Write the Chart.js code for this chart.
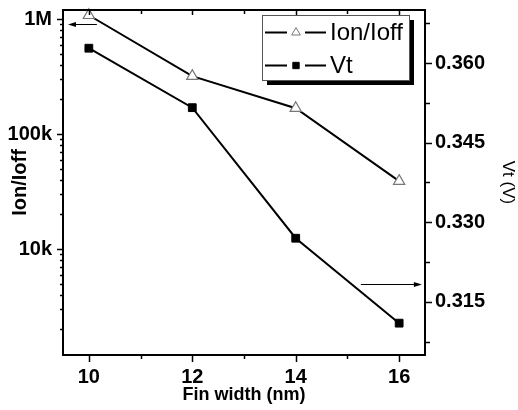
<!DOCTYPE html>
<html><head><meta charset="utf-8">
<script src="https://cdn.jsdelivr.net/npm/chart.js@4/dist/chart.umd.min.js"></script>
<style>html,body{margin:0;padding:0;background:#fff;}#wrap{width:518px;height:410px;}</style>
</head><body><div id="wrap"><canvas id="c" width="518" height="410"></canvas></div>
<script>
// ---- data ----
const finWidth = [10, 12, 14, 16];
const ionIoff = [1080000, 319000, 168000, 39000];
const vt = [0.3628, 0.3516, 0.3270, 0.3110];
const seriesNames = ['Ion/Ioff', 'Vt'];
const xTickValues = [10, 12, 14, 16];
const xTickLabels = ['10', '12', '14', '16'];
const leftTickValues = [1e4, 1e5, 1e6];
const leftTickLabels = ['10k', '100k', '1M'];
const rightTickValues = [0.315, 0.330, 0.345, 0.360];
const rightTickLabels = ['0.315', '0.330', '0.345', '0.360'];
const axisTitles = {x: 'Fin width (nm)', y: 'Ion/Ioff', y1: 'Vt (V)'};
// arrows pointing to each series' axis (data coordinates)
const arrowLeft = {x0: 10.155, x1: 9.597, y: 905000, axis: 'y'};
const arrowRight = {x0: 15.26, x1: 16.44, y: 0.3184, axis: 'y1'};

const FONT = '"Liberation Sans", Arial, Helvetica, sans-serif';

const framePlugin = {
  id: 'frame',
  afterDatasetsDraw(chart) {
    const ctx = chart.ctx;
    const a = chart.chartArea;
    const sx = chart.scales.x, sy = chart.scales.y, sr = chart.scales.y1;
    ctx.save();
    ctx.strokeStyle = '#000';
    ctx.lineCap = 'butt';
    // tick marks
    ctx.lineWidth = 1.5;
    ctx.beginPath();
    for (let v = 10; v <= 16; v++) {
      const px = Math.round(sx.getPixelForValue(v)) + 0.5;
      const major = xTickValues.includes(v);
      ctx.moveTo(px, a.bottom); ctx.lineTo(px, a.bottom + (major ? 7 : 4));
      ctx.moveTo(px, a.top); ctx.lineTo(px, a.top + (major ? 5 : 4));
    }
    for (let e = 3; e <= 6; e++) {
      for (let m = 1; m <= 9; m++) {
        const v = m * Math.pow(10, e);
        if (v < sy.min || v > sy.max) continue;
        const py = Math.round(sy.getPixelForValue(v)) + 0.5;
        ctx.moveTo(a.left, py); ctx.lineTo(a.left - (m === 1 ? 6 : 3), py);
      }
    }
    for (let k = 0; k < 9; k++) {
      const v = 0.3075 + k * 0.0075;
      if (v > sr.max) continue;
      const py = Math.round(sr.getPixelForValue(v)) + 0.5;
      const major = k % 2 === 1;
      ctx.moveTo(a.right, py); ctx.lineTo(a.right + (major ? 7 : 5), py);
    }
    ctx.stroke();
    // frame
    ctx.lineWidth = 2;
    ctx.strokeRect(a.left, a.top, a.right - a.left, a.bottom - a.top);

    // arrows
    const drawArrow = (ar) => {
      const ys = chart.scales[ar.axis];
      const x0 = sx.getPixelForValue(ar.x0), x1 = sx.getPixelForValue(ar.x1);
      const y = Math.round(ys.getPixelForValue(ar.y)) + 0.5;
      const dir = Math.sign(x1 - x0);
      ctx.strokeStyle = '#000';
      ctx.lineWidth = 1;
      ctx.beginPath(); ctx.moveTo(x0, y); ctx.lineTo(x1 - dir * 6, y); ctx.stroke();
      ctx.beginPath(); ctx.moveTo(x1, y); ctx.lineTo(x1 - dir * 8, y - 2.5); ctx.lineTo(x1 - dir * 8, y + 2.5); ctx.closePath();
      ctx.fillStyle = '#000'; ctx.fill();
    };
    drawArrow(arrowLeft);
    drawArrow(arrowRight);

    // legend
    const lx = 262, ly = 15, lw = 147, lh = 65;
    ctx.fillStyle = '#000';
    ctx.fillRect(lx + 5, ly + 5, lw, lh);
    ctx.fillStyle = '#fff';
    ctx.fillRect(lx, ly, lw, lh);
    ctx.lineWidth = 1;
    ctx.strokeStyle = '#555';
    ctx.strokeRect(lx + 0.5, ly + 0.5, lw, lh);
    const rows = [32, 65];
    chart.data.datasets.forEach((ds, i) => {
      const y = rows[i] + 0.5;
      ctx.strokeStyle = '#000';
      ctx.lineWidth = 2;
      ctx.beginPath();
      ctx.moveTo(265, y); ctx.lineTo(287, y);
      ctx.moveTo(305, y); ctx.lineTo(326, y);
      ctx.stroke();
      ctx.fillStyle = ds.pointBackgroundColor;
      ctx.strokeStyle = ds.pointBorderColor;
      ctx.lineWidth = 1;
      Chart.helpers.drawPoint(ctx, {
        pointStyle: ds.pointStyle, radius: i === 0 ? 5 : 4.5, borderWidth: 1, rotation: 0
      }, 296, y);
      ctx.fillStyle = '#000';
      ctx.font = '24px ' + FONT;
      ctx.textBaseline = 'middle';
      ctx.textAlign = 'left';
      ctx.fillText(ds.label, 330, y + 1);
    });
    ctx.restore();
  }
};

const tickFont = {family: FONT, size: 20, weight: 'bold'};
const noPad = s => { s.paddingTop = 0; s.paddingBottom = 0; s.paddingLeft = 0; s.paddingRight = 0; };

new Chart(document.getElementById('c'), {
  type: 'line',
  data: {
    datasets: [
      {
        label: seriesNames[0],
        data: finWidth.map((x, i) => ({x: x, y: ionIoff[i]})),
        yAxisID: 'y',
        borderColor: '#000', borderWidth: 2,
        pointStyle: 'triangle', pointRadius: 6.5,
        pointBackgroundColor: '#fff', pointBorderColor: '#777', pointBorderWidth: 1.2,
        tension: 0, clip: false
      },
      {
        label: seriesNames[1],
        data: finWidth.map((x, i) => ({x: x, y: vt[i]})),
        yAxisID: 'y1',
        borderColor: '#000', borderWidth: 2,
        pointStyle: 'rect', pointRadius: 5.5,
        pointBackgroundColor: '#000', pointBorderColor: '#000', pointBorderWidth: 1,
        tension: 0, clip: false
      }
    ]
  },
  options: {
    responsive: false,
    devicePixelRatio: 1,
    animation: false,
    events: [],
    layout: {padding: {top: 10, left: 0, right: 0, bottom: 0}},
    plugins: {legend: {display: false}, tooltip: {enabled: false}},
    scales: {
      x: {
        type: 'linear', position: 'bottom', min: 9.5, max: 16.5,
        afterBuildTicks: s => { s.ticks = xTickValues.map(v => ({value: v})); },
        afterFit: s => { s.height = 55; noPad(s); },
        grid: {display: false, drawTicks: false},
        border: {display: false},
        ticks: {
          autoSkip: false, maxRotation: 0, padding: 10, color: '#000', font: tickFont,
          callback: (v, i) => xTickLabels[i]
        },
        title: {display: true, text: axisTitles.x, color: '#000',
          font: {family: FONT, size: 18, weight: 'bold'}, padding: {top: 0, bottom: 4}}
      },
      y: {
        type: 'logarithmic', position: 'left', min: 1200, max: 1200000,
        afterBuildTicks: s => { s.ticks = leftTickValues.map(v => ({value: v})); },
        afterFit: s => { s.width = 63; noPad(s); },
        grid: {display: false, drawTicks: false},
        border: {display: false},
        ticks: {
          autoSkip: false, padding: 11, color: '#000', font: tickFont,
          callback: (v, i) => leftTickLabels[i]
        },
        title: {display: true, text: axisTitles.y, color: '#000',
          font: {family: FONT, size: 20, weight: 'bold'}, padding: {top: 8, bottom: 0}}
      },
      y1: {
        type: 'linear', position: 'right', min: 0.305, max: 0.370,
        afterBuildTicks: s => { s.ticks = rightTickValues.map(v => ({value: v})); },
        afterFit: s => { s.width = 93; noPad(s); },
        grid: {display: false, drawTicks: false},
        border: {display: false},
        ticks: {
          autoSkip: false, padding: 10, color: '#000', font: tickFont,
          callback: (v, i) => rightTickLabels[i]
        },
        title: {display: true, text: axisTitles.y1, color: '#000',
          font: {family: FONT, size: 17, weight: 'normal'}, padding: {top: 0, bottom: 0}}
      }
    }
  },
  plugins: [framePlugin]
});
</script>
</body></html>
